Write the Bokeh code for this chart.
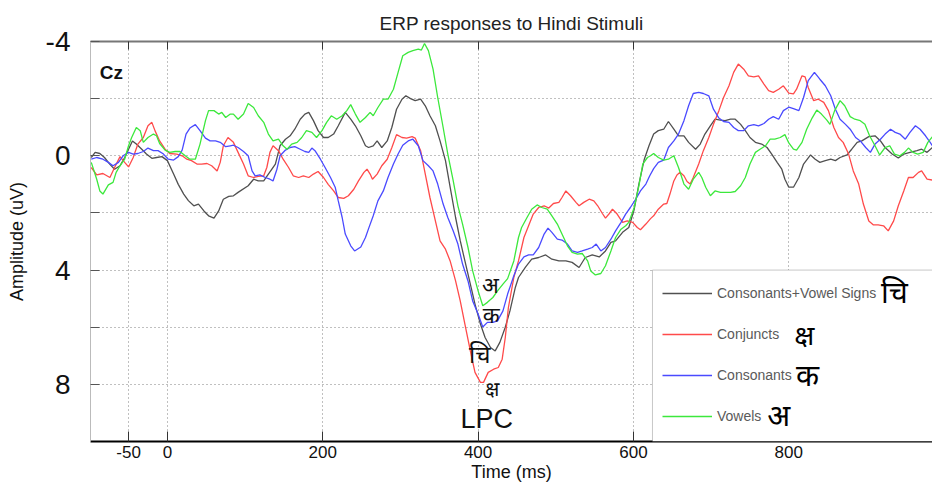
from bokeh.plotting import figure
from bokeh.models import Range1d, FixedTicker, LinearAxis, Legend, LegendItem, Label, BoxAnnotation
from bokeh.embed import file_html
from bokeh.resources import INLINE

TITLE = "ERP responses to Hindi Stimuli"
X_TICKS = [-50, 0, 200, 400, 600, 800]
Y_TICKS = [-4, 0, 4, 8]
Y_MINOR = [-2, 2, 6]
SERIES_NAMES = ["Consonants+Vowel Signs", "Conjuncts", "Consonants", "Vowels"]
SERIES_GLYPHS = ["चि", "क्ष", "क", "अ"]

# Consonants+Vowel Signs (black)
t_cvs = [-98,-93,-87,-81,-74,-68,-61,-55,-50,-45,-40,-33,-27,-20,-14,-7,0,8,14,21,27,34,40,47,53,60,66,72,79,85,
         91,104,111,117,124,130,139,145,152,158,164,171,177,182,188,194,201,207,214,220,229,236,242,249,255,259,
         265,270,276,283,289,295,302,307,313,319,326,332,338,345,351,358,364,371,377,383,390,396,403,409,416,422,
         428,435,441,448,452,461,469,478,487,495,504,513,521,530,538,547,556,564,571,577,586,594,601,607,614,620,
         626,632,639,645,652,658,665,671,680,686,692,699,705,712,718,725,731,738,744,750,757,765,772,778,785,791,
         795,800,806,813,819,828,834,840,847,854,860,866,875,881,888,894,903,911,918,924,933,941,948,956,965,971,978,985]
v_cvs = [0.06,-0.12,-0.08,0.06,0.3,0.47,0.35,0.06,-0.23,-0.52,-0.41,-0.23,-0.06,0.09,0.06,0.03,0.17,0.64,1.0,1.34,1.57,1.75,1.69,1.93,2.1,2.18,1.93,1.52,1.42,1.4,
         1.28,1.05,0.82,0.88,0.88,0.64,0.29,-0.35,-0.58,-0.7,-0.93,-1.28,-1.46,-1.52,-1.23,-0.88,-0.64,-0.64,-0.76,-1.05,-1.52,-1.28,-1.05,-0.7,-0.35,-0.29,
         -0.35,-0.52,-0.29,-0.52,-1.0,-1.63,-1.98,-2.1,-2.0,-1.93,-1.98,-1.75,-1.4,-1.05,-0.52,0.17,1.1,2.16,2.97,3.68,4.49,5.19,5.89,6.36,6.71,6.83,
         6.53,6.0,5.43,4.6,4.26,3.9,3.62,3.56,3.47,3.62,3.68,3.68,3.73,3.91,3.56,3.47,3.54,3.33,3.03,2.98,2.68,2.51,1.87,0.99,0.12,-0.35,
         -0.76,-0.88,-0.93,-1.2,-0.93,-0.7,-0.7,-0.47,-0.23,-0.41,-0.76,-1.05,-1.28,-1.25,-1.23,-1.28,-1.28,-1.1,-0.88,-0.64,-0.47,-0.41,-0.29,-0.06,0.23,0.47,
         0.82,1.1,1.1,0.76,0.29,-0.03,0.12,0.23,0.17,0.12,0.17,0.06,-0.03,-0.23,-0.47,-0.52,-0.67,-0.7,-0.52,-0.29,-0.06,0.08,-0.06,-0.12,-0.18,-0.23,-0.12,-0.29]

# Conjuncts (red)
t_conj = [-98,-91,-83,-74,-68,-61,-55,-50,-44,-38,-31,-25,-20,-16,-10,-3,3,12,19,25,31,38,44,51,57,64,68,72,78,85,
          91,98,104,111,117,124,128,132,136,143,149,156,162,169,175,182,188,194,201,207,214,220,227,233,240,246,253,257,261,264,
          270,276,283,289,295,302,308,315,319,326,332,338,345,351,358,364,371,377,383,390,396,403,407,413,420,426,431,435,439,446,
          452,459,465,471,478,485,491,497,504,508,513,519,526,530,536,543,549,554,560,564,569,573,579,586,592,599,605,609,616,622,
          626,632,639,643,647,652,656,660,665,669,673,677,684,690,697,703,710,716,723,729,735,742,748,755,761,768,774,780,787,793,
          800,806,810,817,821,825,832,838,845,851,858,864,870,877,883,890,896,903,909,915,922,928,935,941,948,954,960,967,971,978,985]
v_conj = [0.41,0.67,0.62,0.76,0.41,0.03,0.23,0.39,0.06,-0.41,-0.64,-1.05,-1.17,-0.88,-0.52,-0.23,-0.08,-0.06,0.0,0.12,0.17,0.29,0.29,0.27,0.35,0.53,0.23,-0.35,-0.64,-0.47,
          -0.12,0.29,0.7,0.76,0.72,0.7,0.41,-0.12,-0.35,-0.18,0.12,0.41,0.7,0.76,0.7,0.76,0.64,0.55,0.76,1.0,1.23,1.46,1.49,1.4,1.17,0.88,0.58,0.47,0.64,0.82,
          0.64,0.35,0.12,-0.29,-0.74,-0.64,-0.62,-0.67,-0.62,-0.18,0.64,1.46,2.28,2.98,3.27,3.68,4.38,5.08,5.89,6.83,7.58,7.93,7.93,7.58,7.47,7.41,7.12,6.36,5.31,4.26,
          3.68,2.86,2.45,2.04,1.81,1.75,1.83,1.67,1.63,1.46,1.23,1.4,1.63,1.75,1.63,1.52,1.58,1.75,2.02,2.18,2.02,1.87,2.04,2.33,2.28,2.33,2.51,2.59,2.39,2.2,
          2.1,1.87,1.69,1.67,1.34,0.88,0.67,0.58,0.7,0.9,0.99,0.76,0.29,-0.18,-0.64,-1.1,-1.58,-2.04,-2.45,-2.92,-3.21,-3.03,-2.8,-2.76,-2.8,-2.51,-2.28,-2.22,-2.33,-2.45,
          -2.19,-2.17,-2.33,-2.8,-2.76,-2.39,-1.93,-1.98,-1.87,-1.58,-0.99,-0.64,-0.47,-0.06,0.53,0.99,1.69,2.28,2.42,2.42,2.45,2.63,2.28,1.75,1.23,0.76,0.76,0.58,0.53,0.82,0.85]

# Consonants (blue)
t_cons = [-98,-91,-83,-76,-70,-63,-57,-50,-44,-38,-31,-25,-18,-12,-5,1,8,14,19,24,29,36,42,49,55,62,68,75,81,85,
          91,98,104,109,113,119,126,132,136,141,145,152,158,164,171,177,182,186,190,197,203,210,216,220,225,229,236,241,249,255,
          259,265,271,278,284,291,297,303,310,316,323,329,336,342,348,355,361,368,374,380,387,393,400,406,412,419,425,432,438,446,
          452,459,465,471,478,485,490,495,502,508,515,521,528,534,541,547,552,558,564,571,577,584,590,596,603,609,616,621,626,632,
          639,645,652,658,665,671,677,684,690,697,703,710,716,723,729,735,742,748,755,761,768,774,780,787,793,800,806,813,819,825,
          833,840,847,854,860,866,873,879,886,892,899,905,911,918,924,931,937,943,950,956,963,969,976,982,985]
v_cons = [0.12,0.06,0.12,0.23,0.35,0.23,0.0,-0.12,-0.06,-0.08,-0.15,-0.27,-0.18,-0.18,-0.06,0.12,0.15,0.03,-0.2,-0.76,-0.97,-1.09,-0.88,-0.62,-0.52,-0.52,-0.47,-0.32,-0.35,-0.37,
          -0.29,-0.15,0.0,0.53,0.7,0.67,0.76,0.82,0.88,0.47,0.0,-0.2,-0.29,-0.32,-0.23,-0.15,-0.12,-0.27,-0.18,0.12,0.41,0.76,1.1,1.58,2.16,2.74,3.15,3.33,3.19,2.86,
          2.55,2.1,1.58,1.23,0.76,0.29,-0.06,-0.37,-0.52,-0.58,-0.35,0.17,0.35,0.53,0.99,1.69,2.16,2.63,3.09,3.79,4.38,5.08,5.54,5.99,5.83,5.83,5.78,5.43,4.84,4.2,
          3.79,3.54,3.47,3.47,3.21,2.74,2.53,2.68,2.92,2.95,3.09,3.33,3.38,3.33,3.27,3.21,3.09,3.33,3.21,2.92,2.63,2.33,2.04,1.81,1.52,1.23,0.99,0.7,0.45,0.23,
          0.15,-0.29,-0.52,-0.76,-1.23,-1.75,-2.18,-2.22,-2.18,-2.1,-1.63,-1.32,-1.2,-1.17,-0.99,-0.88,-0.88,-1.05,-1.09,-1.05,-1.13,-1.28,-1.37,-1.28,-1.58,-1.7,-1.65,-1.58,-2.04,-2.63,
          -2.92,-2.68,-2.45,-2.1,-1.63,-1.28,-1.1,-0.93,-0.64,-0.52,-0.29,-0.12,-0.41,-0.58,-0.76,-0.93,-0.82,-0.76,-0.58,-0.82,-1.05,-0.93,-0.7,-0.47,-0.35]

# Vowels (green)
t_vow = [-98,-91,-87,-83,-76,-70,-66,-61,-55,-50,-46,-40,-35,-31,-25,-18,-14,-10,-3,3,10,16,23,29,36,42,49,53,60,66,70,75,81,85,
         91,98,104,111,117,124,130,136,143,149,154,160,167,173,179,186,192,199,205,211,218,225,231,236,242,248,255,261,
         265,271,278,284,291,297,303,310,316,323,327,331,336,342,348,355,361,368,374,380,387,393,400,406,412,419,425,432,438,446,
         452,456,463,469,476,482,489,495,502,508,515,521,528,534,541,545,551,558,564,571,577,584,590,594,601,607,612,618,622,626,
         632,639,645,652,658,665,671,677,684,688,693,699,705,712,718,725,731,738,744,750,757,763,770,776,782,789,795,800,806,810,
         817,823,830,836,842,849,853,859,866,872,879,885,892,898,904,911,917,924,930,936,943,949,954,960,966,973,979,985]
v_vow = [0.23,0.82,1.23,1.34,1.02,0.93,0.58,0.35,0.12,-0.35,-0.64,-0.99,-0.88,-0.47,-0.64,-0.76,-0.7,-0.43,-0.2,-0.12,-0.15,-0.15,0.0,0.12,0.12,-0.41,-1.23,-1.58,-1.58,-1.46,-1.52,-1.34,-1.46,-1.46,
         -1.28,-1.46,-1.83,-1.69,-1.4,-1.17,-0.76,-0.52,-0.58,-0.35,-0.23,-0.41,-0.47,-0.64,-0.88,-0.82,-0.64,-0.88,-1.17,-1.4,-1.28,-1.4,-1.58,-1.79,-1.46,-1.17,-1.34,-1.52,
         -1.4,-1.69,-1.98,-1.98,-2.33,-2.92,-3.5,-3.62,-3.68,-3.73,-3.7,-3.93,-3.68,-3.03,-2.04,-0.99,-0.06,0.88,1.75,2.39,3.21,4.03,4.73,5.25,5.13,4.96,4.73,4.49,4.3,3.68,
         2.86,2.51,2.16,1.87,1.72,1.81,1.87,2.1,2.39,2.74,3.15,3.38,3.44,3.42,3.68,4.03,4.17,4.12,3.85,3.33,2.86,2.57,2.45,2.33,1.81,1.05,0.29,0.06,0.0,-0.08,
         0.06,0.15,0.12,0.0,0.41,0.99,1.17,0.82,0.58,0.76,1.1,1.4,1.23,1.28,1.28,1.28,1.25,1.05,0.76,0.29,-0.12,-0.23,-0.35,-0.58,-0.58,-0.64,-0.74,-0.45,-0.23,-0.2,
         -0.47,-0.93,-1.32,-1.6,-1.46,-1.25,-1.1,-1.58,-1.93,-1.75,-1.37,-1.28,-1.23,-1.1,-0.7,-0.35,-0.03,-0.29,-0.35,-0.06,0.0,-0.12,-0.27,-0.12,-0.06,-0.12,-0.47,-0.67]

COLORS = ["#505050", "#ff4a4a", "#4a4aff", "#3ce83c"]
FONT = "Liberation Sans"
DEV_FONT = "Noto Sans"

p = figure(width=932, height=487, output_backend="svg", toolbar_location=None,
           x_range=Range1d(-99, 985), y_range=Range1d(10, -4),
           min_border_left=90, min_border_right=0, min_border_top=41, min_border_bottom=46,
           x_axis_label="Time (ms)", y_axis_label="Amplitude (uV)")
p.title.text = TITLE
p.title.align = "center"
p.title.text_font = FONT
p.title.text_font_size = "19px"
p.title.text_font_style = "normal"
p.title.text_color = "#222222"
p.title.standoff = 16
p.outline_line_color = None
p.background_fill_color = "white"

xa = p.xaxis[0]
xa.ticker = FixedTicker(ticks=X_TICKS)
xa.major_label_overrides = {-50: "-50"}
xa.major_label_text_font = FONT
xa.major_label_text_font_size = "17px"
xa.major_label_text_color = "#111111"
xa.major_label_standoff = 4
xa.major_tick_in = 10
xa.major_tick_out = 0
xa.minor_tick_line_color = None
xa.major_tick_line_color = "#333333"
xa.axis_line_color = "black"
xa.axis_line_width = 2
xa.axis_label_text_font = FONT
xa.axis_label_text_font_size = "18px"
xa.axis_label_text_font_style = "normal"
xa.axis_label_text_color = "#111111"
xa.axis_label_standoff = 1

ya = p.yaxis[0]
ya.ticker = FixedTicker(ticks=Y_TICKS, minor_ticks=Y_MINOR)
ya.major_label_overrides = {-4: "-4"}
ya.major_label_text_font = FONT
ya.major_label_text_font_size = "28px"
ya.major_label_text_color = "#111111"
ya.major_label_standoff = 20
ya.major_tick_in = 9
ya.major_tick_out = 0
ya.minor_tick_in = 9
ya.minor_tick_out = 0
ya.major_tick_line_color = "#555555"
ya.minor_tick_line_color = "#555555"
ya.axis_line_color = "#bbbbbb"
ya.axis_line_width = 1
ya.axis_label_text_font = FONT
ya.axis_label_text_font_size = "18px"
ya.axis_label_text_font_style = "normal"
ya.axis_label_text_color = "#111111"
ya.axis_label_standoff = 16

top = LinearAxis(ticker=FixedTicker(ticks=X_TICKS), major_label_text_font_size="6px",
                 major_label_text_color=None,
                 major_label_standoff=0, major_tick_in=8, major_tick_out=0,
                 minor_tick_line_color=None, major_tick_line_color="#333333",
                 axis_line_color="#777777", axis_line_width=2)
p.add_layout(top, "above")

p.xgrid.ticker = FixedTicker(ticks=X_TICKS)
p.ygrid.ticker = FixedTicker(ticks=Y_TICKS, minor_ticks=Y_MINOR)
for g in (p.xgrid, p.ygrid):
    g.grid_line_color = "#808080"
    g.grid_line_dash = "1 3"
    g.grid_line_width = 1
p.ygrid.minor_grid_line_color = "#808080"
p.ygrid.minor_grid_line_dash = "1 3"
p.ygrid.minor_grid_line_width = 1

series = [(t_cvs, v_cvs), (t_conj, v_conj), (t_cons, v_cons), (t_vow, v_vow)]
renderers = []
for (t, v), c in zip(series, COLORS):
    renderers.append(p.line(t, v, line_color=c, line_width=1.3))

# legend box (white panel with border) behind the legend entries
p.add_layout(BoxAnnotation(left=624.5, right=985, top=4, bottom=10,
                           fill_color="white", fill_alpha=1.0,
                           line_color="#444444", line_width=1, level="annotation"))

legend = Legend(items=[LegendItem(label=n, renderers=[r]) for n, r in zip(SERIES_NAMES, renderers)],
                location=(562, 0), orientation="vertical",
                label_text_font=FONT, label_text_font_size="14px", label_text_color="#5a5a5a",
                glyph_width=50, glyph_height=30, label_height=30, label_width=205,
                label_standoff=5, spacing=11, padding=10, margin=0,
                border_line_color="#444444", border_line_alpha=0.0,
                background_fill_color="white", background_fill_alpha=0.0)
p.add_layout(legend)

# Devanagari glyphs next to legend entries
for (gx, gy, fs), g in zip([(936, 4.76, "30px"), (820, 6.22, "28px"), (824, 7.66, "30px"), (787, 9.05, "30px")], SERIES_GLYPHS):
    p.add_layout(Label(x=gx, y=gy, text=g, text_font=DEV_FONT, text_font_size=fs, level="overlay",
                       text_align="center", text_baseline="middle", text_color="black"))

# Peak annotations
for (ax, ay, fs), g in zip([(402, 6.92, "24px"), (418, 8.15, "20px"), (417, 5.52, "22px"), (416, 4.47, "22px")], SERIES_GLYPHS):
    p.add_layout(Label(x=ax, y=ay, text=g, text_font=DEV_FONT, text_font_size=fs,
                       text_align="center", text_baseline="middle", text_color="#111111"))

p.add_layout(Label(x=411, y=9.2, text="LPC", text_font=FONT, text_font_size="27px",
                   text_align="center", text_baseline="middle", text_color="#111111"))
p.add_layout(Label(x=-72, y=-2.92, text="Cz", text_font=FONT, text_font_size="19px",
                   text_font_style="bold", text_align="center", text_baseline="middle", text_color="#111111"))

open("out.html", "w").write(file_html(p, INLINE))
